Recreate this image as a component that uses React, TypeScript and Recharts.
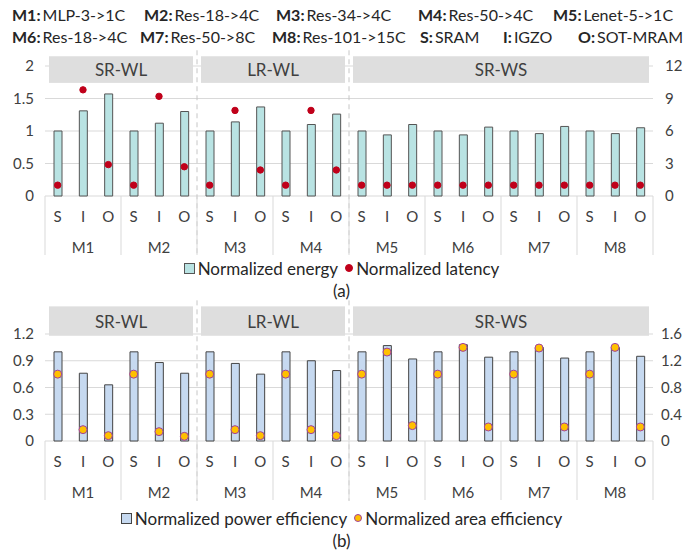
import React from "react";
import {
  ComposedChart,
  Bar,
  Line,
  XAxis,
  YAxis,
  CartesianGrid,
  ReferenceArea,
  ReferenceLine,
} from "recharts";

const models = ["M1", "M2", "M3", "M4", "M5", "M6", "M7", "M8"];
const memories = ["S", "I", "O"];

// panel (a)
const energy = [1.0, 1.31, 1.57, 1.0, 1.12, 1.3, 1.0, 1.14, 1.37, 1.0, 1.1, 1.26, 1.0, 0.94, 1.1, 1.0, 0.94, 1.06, 1.0, 0.96, 1.07, 1.0, 0.96, 1.05];
const latency = [1, 9.8, 2.9, 1, 9.2, 2.7, 1, 7.9, 2.4, 1, 7.9, 2.4, 1, 1, 1, 1, 1, 1, 1, 1, 1, 1, 1, 1];

// panel (b)
const powerEff = [1.0, 0.76, 0.63, 1.0, 0.88, 0.76, 1.0, 0.87, 0.75, 1.0, 0.9, 0.79, 1.0, 1.07, 0.92, 1.0, 1.08, 0.94, 1.0, 1.05, 0.93, 1.0, 1.05, 0.95];
const areaEff = [1.0, 0.17, 0.08, 1.0, 0.14, 0.07, 1.0, 0.17, 0.08, 1.0, 0.17, 0.08, 1.0, 1.33, 0.23, 1.0, 1.4, 0.21, 1.0, 1.39, 0.21, 1.0, 1.4, 0.21];

const groups = [
  { name: "SR-WL", first: "M1", last: "M2" },
  { name: "LR-WL", first: "M3", last: "M4" },
  { name: "SR-WS", first: "M5", last: "M8" },
];

const leftTicksA = [0, 0.5, 1, 1.5, 2];
const rightTicksA = [0, 3, 6, 9, 12];
const leftTicksB = [0, 0.3, 0.6, 0.9, 1.2];
const rightTicksB = [0, 0.4, 0.8, 1.2, 1.6];

const rows = models.flatMap((m, mi) =>
  memories.map((mem, k) => ({
    id: `${m}-${mem}`,
    energy: energy[mi * 3 + k],
    latency: latency[mi * 3 + k],
    power: powerEff[mi * 3 + k],
    area: areaEff[mi * 3 + k],
  }))
);

const W = 683;
const PLOT_L = 45;
const PLOT_R = 653;
const BAND = (PLOT_R - PLOT_L) / rows.length;
const FONT = "Lato, 'Open Sans', sans-serif";
const TXT = "#404040";
const AX1 = 31;
const AX2 = 33;

const MemTick = (p: any) => (
  <text x={p.x} y={p.y + 19.5} textAnchor="middle" dominantBaseline="central" fontSize={15} fill={TXT}>
    {String(p.payload.value).split("-")[1]}
  </text>
);

const ModelTick = (p: any) => {
  const i = p.index ?? p.payload.index;
  const half = BAND / 2;
  const top = p.y - AX1;
  const bottom = p.y + 28;
  return (
    <g>
      {i % 3 === 0 && <line x1={p.x - half} x2={p.x - half} y1={top} y2={bottom} stroke="#d9d9d9" />}
      {i === rows.length - 1 && <line x1={p.x + half} x2={p.x + half} y1={top} y2={bottom} stroke="#d9d9d9" />}
      {i % 3 === 1 && (
        <text x={p.x} y={p.y + 19.5} textAnchor="middle" dominantBaseline="central" fontSize={15} fill={TXT}>
          {String(p.payload.value).split("-")[0]}
        </text>
      )}
    </g>
  );
};

type PanelProps = {
  top: number;
  plotTop: number;
  plotHeight: number;
  barKey: string;
  dotKey: string;
  barFill: string;
  barStroke: string;
  dotFill: string;
  dotStroke: string;
  dotR: number;
  leftTicks: number[];
  rightTicks: number[];
  rightGap: number;
  band: [number, number];
};

function Panel(props: PanelProps) {
  const { top, plotTop, plotHeight, leftTicks, rightTicks, band } = props;
  const height = plotTop + plotHeight + AX1 + AX2;
  const lMax = leftTicks[leftTicks.length - 1];
  const bandTopPx = plotTop + plotHeight - (band[1] / lMax) * plotHeight;

  const split = (p: any) => {
    const x = p.x1 + BAND / 2;
    const bottom = Math.max(p.y1, p.y2);
    return <line x1={x} x2={x} y1={bandTopPx - 6} y2={bottom + 60} stroke="#c6c6c6" strokeDasharray="5 4" />;
  };

  return (
    <div style={{ position: "absolute", left: 0, top, width: W, height }}>
      <ComposedChart
        width={W}
        height={height}
        data={rows}
        margin={{ top: plotTop, right: 2, left: 5, bottom: 0 }}
        barCategoryGap={0}
      >
        <CartesianGrid vertical={false} stroke="#d9d9d9" yAxisId="l" xAxisId="mem" />
        <XAxis
          xAxisId="mem"
          dataKey="id"
          interval={0}
          axisLine={false}
          tickLine={false}
          tickSize={0}
          tickMargin={0}
          height={AX1}
          tick={MemTick}
        />
        <XAxis
          xAxisId="model"
          dataKey="id"
          interval={0}
          axisLine={false}
          tickLine={false}
          tickSize={0}
          tickMargin={0}
          height={AX2}
          tick={ModelTick}
        />
        <YAxis
          yAxisId="l"
          domain={[0, lMax]}
          ticks={leftTicks}
          width={40}
          axisLine={false}
          tickLine={false}
          tickSize={0}
          tickMargin={11}
          tick={{ fontSize: 15, fill: TXT }}
        />
        <YAxis
          yAxisId="r"
          orientation="right"
          domain={[0, rightTicks[rightTicks.length - 1]]}
          ticks={rightTicks}
          width={28}
          axisLine={false}
          tickLine={false}
          tickSize={0}
          tickMargin={props.rightGap}
          tick={{ fontSize: 15, fill: TXT, textAnchor: "start" }}
        />
        {groups.map((g) => (
          <ReferenceArea
            key={g.name}
            xAxisId="mem"
            yAxisId="l"
            x1={`${g.first}-S`}
            x2={`${g.last}-O`}
            y1={band[0]}
            y2={band[1]}
            ifOverflow="visible"
            shape={(p: any) => (
              <g>
                <rect x={p.x + 4} y={p.y} width={p.width - 8} height={p.height} fill="#dedede" />
                <text
                  x={p.x + p.width / 2}
                  y={p.y + p.height / 2}
                  textAnchor="middle"
                  dominantBaseline="central"
                  fontSize={17}
                  fill={TXT}
                >
                  {g.name}
                </text>
              </g>
            )}
          />
        ))}
        {groups.slice(0, -1).map((g) => (
          <ReferenceLine key={g.name} xAxisId="mem" yAxisId="l" x={`${g.last}-O`} ifOverflow="visible" shape={split} />
        ))}
        <Bar
          xAxisId="mem"
          yAxisId="l"
          dataKey={props.barKey}
          barSize={8}
          fill={props.barFill}
          stroke={props.barStroke}
          strokeWidth={1}
          isAnimationActive={false}
        />
        <Line
          xAxisId="mem"
          yAxisId="r"
          dataKey={props.dotKey}
          stroke="none"
          strokeWidth={0}
          dot={{ r: props.dotR, fill: props.dotFill, stroke: props.dotStroke, strokeWidth: 1 }}
          activeDot={false}
          isAnimationActive={false}
        />
      </ComposedChart>
    </div>
  );
}

function LegendRow({ y, items }: { y: number; items: { label: string; kind: string; fill: string; stroke: string }[] }) {
  return (
    <div
      style={{
        position: "absolute",
        left: 0,
        top: y - 11,
        width: W,
        height: 22,
        display: "flex",
        justifyContent: "center",
        alignItems: "center",
        fontSize: 17,
        color: "#262626",
      }}
    >
      {items.map((it, i) => (
        <span key={it.label} style={{ display: "flex", alignItems: "center", marginLeft: i ? 7 : 0 }}>
          <span
            style={{
              display: "inline-block",
              width: it.kind === "square" ? 9 : 6,
              height: it.kind === "square" ? 9 : 6,
              borderRadius: it.kind === "square" ? 0 : "50%",
              background: it.fill,
              border: `1px solid ${it.stroke}`,
              marginRight: 3,
            }}
          />
          {it.label}
        </span>
      ))}
    </div>
  );
}

const Lbl = ({ x, y, k, v }: { x: number; y: number; k: string; v: string }) => (
  <span style={{ position: "absolute", left: x, top: y - 10, lineHeight: "20px", whiteSpace: "nowrap" }}>
    <b>{k}:</b>
    <span style={{ marginLeft: 2 }}>{v}</span>
  </span>
);

export default function App() {
  return (
    <div
      style={{
        position: "absolute",
        left: 0,
        top: 0,
        width: W,
        height: 550,
        background: "#fff",
        fontFamily: FONT,
        color: "#262626",
        overflow: "hidden",
      }}
    >
      <div style={{ fontSize: 16 }}>
        <Lbl x={12} y={15} k="M1" v="MLP-3->1C" />
        <Lbl x={144} y={15} k="M2" v="Res-18->4C" />
        <Lbl x={276} y={15} k="M3" v="Res-34->4C" />
        <Lbl x={418} y={15} k="M4" v="Res-50->4C" />
        <Lbl x={553} y={15} k="M5" v="Lenet-5->1C" />
        <Lbl x={12} y={37} k="M6" v="Res-18->4C" />
        <Lbl x={140} y={37} k="M7" v="Res-50->8C" />
        <Lbl x={272} y={37} k="M8" v="Res-101->15C" />
        <Lbl x={420} y={37} k="S" v="SRAM" />
        <Lbl x={503} y={37} k="I" v="IGZO" />
        <Lbl x={578} y={37} k="O" v="SOT-MRAM" />
      </div>

      <Panel
        top={0}
        plotTop={66}
        plotHeight={130}
        barKey="energy"
        dotKey="latency"
        barFill="#b9e3e3"
        barStroke="#555555"
        dotFill="#c0001a"
        dotStroke="#c0001a"
        dotR={3.2}
        leftTicks={leftTicksA}
        rightTicks={rightTicksA}
        rightGap={12}
        band={[1.74, 2.15]}
      />
      <LegendRow
        y={268}
        items={[
          { label: "Normalized energy", kind: "square", fill: "#b9e3e3", stroke: "#555555" },
          { label: "Normalized latency", kind: "dot", fill: "#c0001a", stroke: "#c0001a" },
        ]}
      />
      <div style={{ position: "absolute", left: 0, width: W, top: 280, textAlign: "center", fontSize: 17, lineHeight: "22px" }}>(a)</div>

      <Panel
        top={270}
        plotTop={64}
        plotHeight={107}
        barKey="power"
        dotKey="area"
        barFill="#c6d9f0"
        barStroke="#444444"
        dotFill="#ffc000"
        dotStroke="#a040a0"
        dotR={4}
        leftTicks={leftTicksB}
        rightTicks={rightTicksB}
        rightGap={8}
        band={[1.18, 1.51]}
      />
      <LegendRow
        y={518}
        items={[
          { label: "Normalized power efficiency", kind: "square", fill: "#c6d9f0", stroke: "#444444" },
          { label: "Normalized area efficiency", kind: "dot", fill: "#ffc000", stroke: "#a040a0" },
        ]}
      />
      <div style={{ position: "absolute", left: 0, width: W, top: 530, textAlign: "center", fontSize: 17, lineHeight: "22px" }}>(b)</div>
    </div>
  );
}
